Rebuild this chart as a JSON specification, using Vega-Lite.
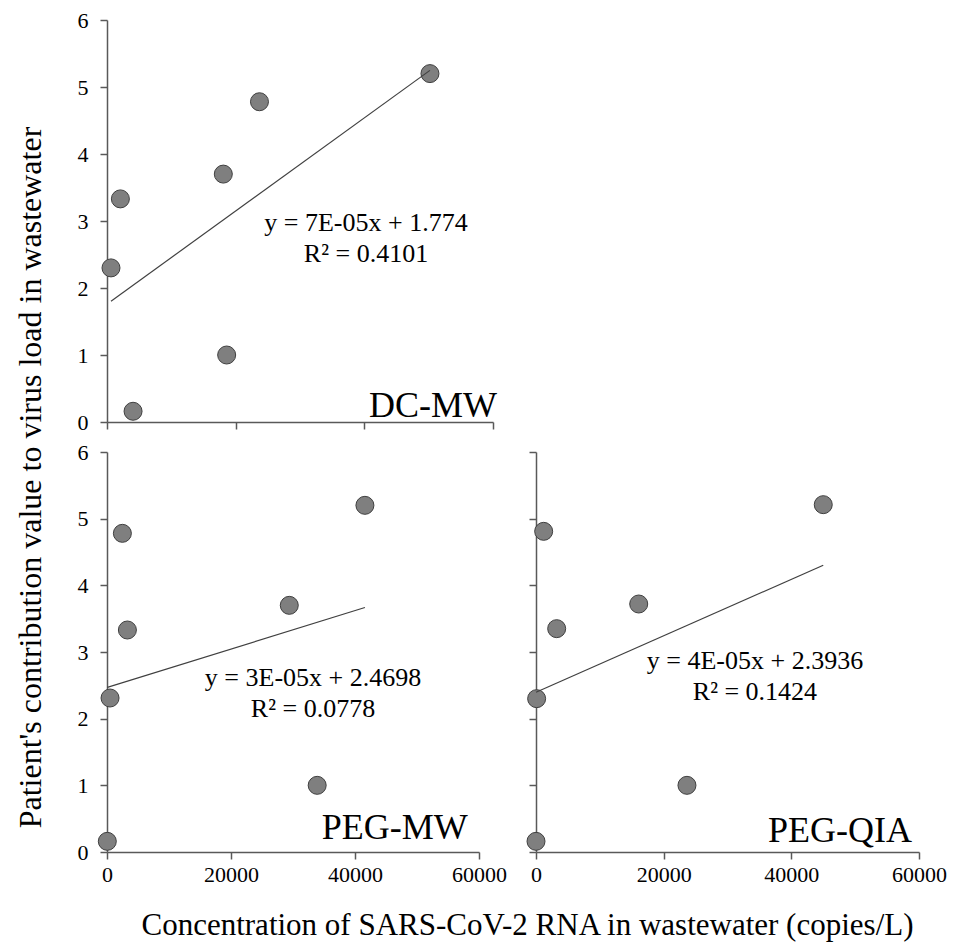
{
  "$schema": "https://vega.github.io/schema/vega-lite/v6.json",
  "background": "white",
  "padding": {"left": 13, "top": 9, "right": 5, "bottom": 5},
  "config": {
    "font": "Liberation Serif",
    "view": {"stroke": null},
    "axis": {
      "domainColor": "#595959", "domainWidth": 1.5,
      "tickColor": "#595959", "tickWidth": 1.5, "tickSize": 7,
      "grid": false, "labelFont": "Liberation Serif", "labelFontSize": 22, "labelColor": "#000000",
      "labelFlush": false, "labelOverlap": false, "format": "d",
      "titleFont": "Liberation Serif", "titleFontSize": 31, "titleFontWeight": "normal", "titleColor": "#000000"
    }
  },
  "data": {"values": [
    {"method": "DC-MW", "kind": "point", "concentration": 620, "contribution": 2.3},
    {"method": "DC-MW", "kind": "point", "concentration": 2080, "contribution": 3.33},
    {"method": "DC-MW", "kind": "point", "concentration": 4050, "contribution": 0.16},
    {"method": "DC-MW", "kind": "point", "concentration": 18080, "contribution": 3.7},
    {"method": "DC-MW", "kind": "point", "concentration": 18600, "contribution": 1.0},
    {"method": "DC-MW", "kind": "point", "concentration": 23700, "contribution": 4.78},
    {"method": "DC-MW", "kind": "point", "concentration": 50200, "contribution": 5.2},
    {"method": "PEG-MW", "kind": "point", "concentration": 50, "contribution": 0.16},
    {"method": "PEG-MW", "kind": "point", "concentration": 490, "contribution": 2.31},
    {"method": "PEG-MW", "kind": "point", "concentration": 2480, "contribution": 4.78},
    {"method": "PEG-MW", "kind": "point", "concentration": 3290, "contribution": 3.33},
    {"method": "PEG-MW", "kind": "point", "concentration": 29400, "contribution": 3.7},
    {"method": "PEG-MW", "kind": "point", "concentration": 33900, "contribution": 1.0},
    {"method": "PEG-MW", "kind": "point", "concentration": 41600, "contribution": 5.2},
    {"method": "PEG-QIA", "kind": "point", "concentration": 0, "contribution": 0.16},
    {"method": "PEG-QIA", "kind": "point", "concentration": 100, "contribution": 2.3},
    {"method": "PEG-QIA", "kind": "point", "concentration": 1200, "contribution": 4.81},
    {"method": "PEG-QIA", "kind": "point", "concentration": 3240, "contribution": 3.35},
    {"method": "PEG-QIA", "kind": "point", "concentration": 16090, "contribution": 3.72},
    {"method": "PEG-QIA", "kind": "point", "concentration": 23650, "contribution": 1.0},
    {"method": "PEG-QIA", "kind": "point", "concentration": 45000, "contribution": 5.21},
    {"method": "DC-MW", "kind": "eq", "label": "y = 7E-05x + 1.774"},
    {"method": "DC-MW", "kind": "r2", "label": "R² = 0.4101"},
    {"method": "DC-MW", "kind": "name", "label": "DC-MW"},
    {"method": "PEG-MW", "kind": "eq", "label": "y = 3E-05x + 2.4698"},
    {"method": "PEG-MW", "kind": "r2", "label": "R² = 0.0778"},
    {"method": "PEG-MW", "kind": "name", "label": "PEG-MW"},
    {"method": "PEG-QIA", "kind": "eq", "label": "y = 4E-05x + 2.3936"},
    {"method": "PEG-QIA", "kind": "r2", "label": "R² = 0.1424"},
    {"method": "PEG-QIA", "kind": "name", "label": "PEG-QIA"}
  ]},
  "bounds": "flush",
  "spacing": 30,
  "vconcat": [
    {
      "width": 386, "height": 402,
      "transform": [{"filter": "datum.method === 'DC-MW'"}],
      "layer": [
        {"transform": [{"filter": "datum.kind === 'point'"}],
         "mark": {"type": "point", "shape": "circle", "filled": true, "size": 324, "fill": "#7f7f7f", "stroke": "#3f3f3f", "strokeWidth": 1, "opacity": 1},
         "encoding": {
           "x": {"field": "concentration", "type": "quantitative", "scale": {"domain": [0, 60000], "nice": false, "zero": false},
                 "axis": {"values": [0, 20000, 40000, 60000], "labels": false, "title": null}},
           "y": {"field": "contribution", "type": "quantitative", "scale": {"domain": [0, 6], "nice": false},
                 "axis": {"values": [0, 1, 2, 3, 4, 5, 6], "format": "d", "labelPadding": 12, "labelFont": "Liberation Serif", "labelFontSize": 22, "title": null}}
         }},
        {"transform": [{"filter": "datum.kind === 'point'"}, {"regression": "contribution", "on": "concentration"}],
         "mark": {"type": "line", "color": "#404040", "strokeWidth": 1.2},
         "encoding": {
           "x": {"field": "concentration", "type": "quantitative", "axis": {"values": [0, 20000, 40000, 60000], "labels": false, "title": null}},
           "y": {"field": "contribution", "type": "quantitative", "axis": {"values": [0, 1, 2, 3, 4, 5, 6], "format": "d", "labelPadding": 12, "labelFont": "Liberation Serif", "labelFontSize": 22, "title": null}}
         }},
        {"transform": [{"filter": "datum.kind === 'eq'"}],
         "mark": {"type": "text", "font": "Liberation Serif", "fontSize": 26, "align": "center", "baseline": "alphabetic", "color": "#000000", "invalid": null},
         "encoding": {"x": {"datum": 40260, "type": "quantitative"}, "y": {"datum": 2.85, "type": "quantitative"}, "text": {"field": "label"}}},
        {"transform": [{"filter": "datum.kind === 'r2'"}],
         "mark": {"type": "text", "font": "Liberation Serif", "fontSize": 26, "align": "center", "baseline": "alphabetic", "color": "#000000", "invalid": null},
         "encoding": {"x": {"datum": 40260, "type": "quantitative"}, "y": {"datum": 2.39, "type": "quantitative"}, "text": {"field": "label"}}},
        {"transform": [{"filter": "datum.kind === 'name'"}],
         "mark": {"type": "text", "font": "Liberation Serif", "fontSize": 36, "align": "right", "baseline": "alphabetic", "dx": 4, "dy": -5, "color": "#000000", "invalid": null},
         "encoding": {"x": {"datum": 60000, "type": "quantitative"}, "y": {"datum": 0, "type": "quantitative"}, "text": {"field": "label"}}}
      ]
    },
    {
      "bounds": "flush",
      "spacing": 57,
      "hconcat": [
        {
          "width": 372, "height": 400,
          "transform": [{"filter": "datum.method === 'PEG-MW'"}],
          "layer": [
            {"transform": [{"filter": "datum.kind === 'point'"}],
             "mark": {"type": "point", "shape": "circle", "filled": true, "size": 324, "fill": "#7f7f7f", "stroke": "#3f3f3f", "strokeWidth": 1, "opacity": 1},
             "encoding": {
               "x": {"field": "concentration", "type": "quantitative", "scale": {"domain": [0, 60000], "nice": false, "zero": false},
                     "axis": {"values": [0, 20000, 40000, 60000], "format": "d", "labelPadding": 5, "labelFont": "Liberation Serif", "labelFontSize": 22,
                              "title": "Concentration of SARS-CoV-2 RNA in wastewater (copies/L)", "titleFont": "Liberation Serif", "titleFontSize": 31,
                              "titleX": 420, "titleY": 82, "titleAlign": "center", "titleBaseline": "alphabetic", "titleAnchor": "middle"}},
               "y": {"field": "contribution", "type": "quantitative", "scale": {"domain": [0, 6], "nice": false},
                     "axis": {"values": [0, 1, 2, 3, 4, 5, 6], "format": "d", "labelPadding": 12, "labelFont": "Liberation Serif", "labelFontSize": 22,
                              "title": "Patient's contribution value to virus load in wastewater", "titleFont": "Liberation Serif", "titleFontSize": 32,
                              "titleX": -77, "titleY": 25, "titleAlign": "center", "titleBaseline": "middle", "titleAnchor": "middle"}}
             }},
            {"transform": [{"filter": "datum.kind === 'point'"}, {"regression": "contribution", "on": "concentration"}],
             "mark": {"type": "line", "color": "#404040", "strokeWidth": 1.2},
             "encoding": {
               "x": {"field": "concentration", "type": "quantitative", "title": "Concentration of SARS-CoV-2 RNA in wastewater (copies/L)"},
               "y": {"field": "contribution", "type": "quantitative", "title": "Patient's contribution value to virus load in wastewater"}
             }},
            {"transform": [{"filter": "datum.kind === 'eq'"}],
             "mark": {"type": "text", "font": "Liberation Serif", "fontSize": 26, "align": "center", "baseline": "alphabetic", "color": "#000000", "invalid": null},
             "encoding": {"x": {"datum": 33230, "type": "quantitative"}, "y": {"datum": 2.49, "type": "quantitative"}, "text": {"field": "label"}}},
            {"transform": [{"filter": "datum.kind === 'r2'"}],
             "mark": {"type": "text", "font": "Liberation Serif", "fontSize": 26, "align": "center", "baseline": "alphabetic", "color": "#000000", "invalid": null},
             "encoding": {"x": {"datum": 33230, "type": "quantitative"}, "y": {"datum": 2.03, "type": "quantitative"}, "text": {"field": "label"}}},
            {"transform": [{"filter": "datum.kind === 'name'"}],
             "mark": {"type": "text", "font": "Liberation Serif", "fontSize": 36, "align": "right", "baseline": "alphabetic", "dy": -13, "color": "#000000", "invalid": null},
             "encoding": {"x": {"datum": 58200, "type": "quantitative"}, "y": {"datum": 0, "type": "quantitative"}, "text": {"field": "label"}}}
          ]
        },
        {
          "width": 383, "height": 400,
          "transform": [{"filter": "datum.method === 'PEG-QIA'"}],
          "layer": [
            {"transform": [{"filter": "datum.kind === 'point'"}],
             "mark": {"type": "point", "shape": "circle", "filled": true, "size": 324, "fill": "#7f7f7f", "stroke": "#3f3f3f", "strokeWidth": 1, "opacity": 1},
             "encoding": {
               "x": {"field": "concentration", "type": "quantitative", "scale": {"domain": [0, 60000], "nice": false, "zero": false},
                     "axis": {"values": [0, 20000, 40000, 60000], "format": "d", "labelPadding": 5, "labelFont": "Liberation Serif", "labelFontSize": 22, "title": null}},
               "y": {"field": "contribution", "type": "quantitative", "scale": {"domain": [0, 6], "nice": false},
                     "axis": {"values": [0, 1, 2, 3, 4, 5, 6], "labels": false, "title": null}}
             }},
            {"transform": [{"filter": "datum.kind === 'point'"}, {"regression": "contribution", "on": "concentration"}],
             "mark": {"type": "line", "color": "#404040", "strokeWidth": 1.2},
             "encoding": {
               "x": {"field": "concentration", "type": "quantitative", "axis": {"values": [0, 20000, 40000, 60000], "format": "d", "labelPadding": 5, "labelFont": "Liberation Serif", "labelFontSize": 22, "title": null}},
               "y": {"field": "contribution", "type": "quantitative", "axis": {"values": [0, 1, 2, 3, 4, 5, 6], "labels": false, "title": null}}
             }},
            {"transform": [{"filter": "datum.kind === 'eq'"}],
             "mark": {"type": "text", "font": "Liberation Serif", "fontSize": 26, "align": "center", "baseline": "alphabetic", "color": "#000000", "invalid": null},
             "encoding": {"x": {"datum": 34300, "type": "quantitative"}, "y": {"datum": 2.745, "type": "quantitative"}, "text": {"field": "label"}}},
            {"transform": [{"filter": "datum.kind === 'r2'"}],
             "mark": {"type": "text", "font": "Liberation Serif", "fontSize": 26, "align": "center", "baseline": "alphabetic", "color": "#000000", "invalid": null},
             "encoding": {"x": {"datum": 34300, "type": "quantitative"}, "y": {"datum": 2.28, "type": "quantitative"}, "text": {"field": "label"}}},
            {"transform": [{"filter": "datum.kind === 'name'"}],
             "mark": {"type": "text", "font": "Liberation Serif", "fontSize": 36, "align": "right", "baseline": "alphabetic", "dy": -10, "color": "#000000", "invalid": null},
             "encoding": {"x": {"datum": 58900, "type": "quantitative"}, "y": {"datum": 0, "type": "quantitative"}, "text": {"field": "label"}}}
          ]
        }
      ]
    }
  ]
}
